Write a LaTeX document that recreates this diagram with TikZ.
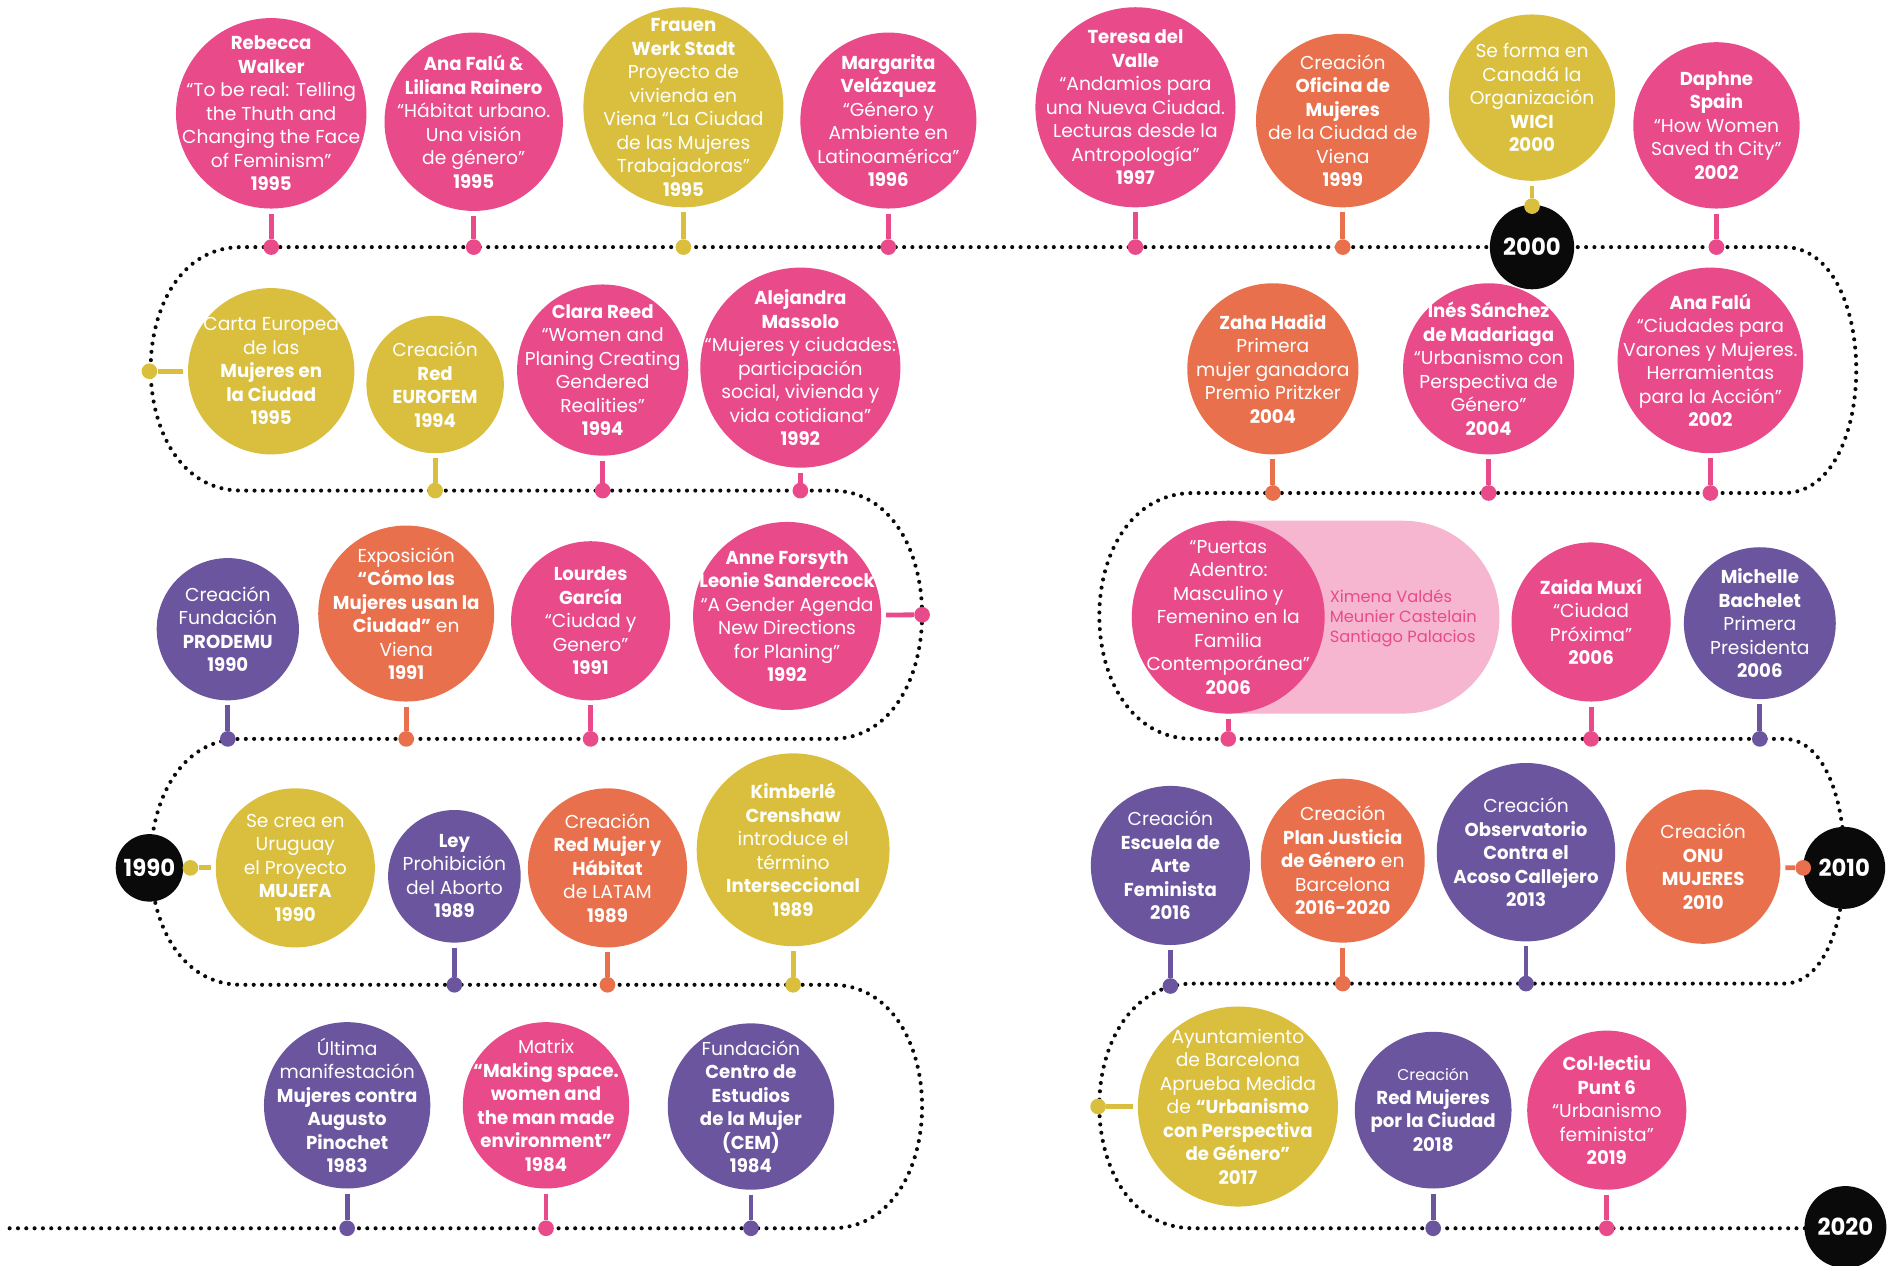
\documentclass[tikz,border=0pt]{standalone}
\usepackage{fontspec}
\setmainfont{Poppins}[BoldFeatures={FakeStretch=0.97}]
\usepackage{tikz}

\definecolor{rosa}{HTML}{E94B8A}
\definecolor{amarillo}{HTML}{D9BF3D}
\definecolor{naranja}{HTML}{E8704C}
\definecolor{morado}{HTML}{6A559E}
\definecolor{rosaclaro}{HTML}{F6B6CF}
\definecolor{negro}{HTML}{0A0A0A}

\tikzset{
  hito/.style={circle, inner sep=0pt, draw=none},
  hitorosa/.style={hito, fill=rosa},
  hitoamarillo/.style={hito, fill=amarillo},
  hitonaranja/.style={hito, fill=naranja},
  hitomorado/.style={hito, fill=morado},
  texto/.style={align=center, inner sep=0pt, text=white, font=\fontsize{15.5}{19.5}\selectfont},
  punto/.style={circle, inner sep=0pt, minimum size=13pt, fill=#1},
  tallo/.style={draw=#1, line width=4pt, shorten <=4pt},
  anio/.style={circle, inner sep=0pt, fill=negro, text=white, font=\bfseries\fontsize{19.5}{20}\selectfont},
  camino/.style={draw=negro, line width=3.4pt, dash pattern=on 0pt off 6.9pt, line cap=round},
}

\begin{document}
\begin{tikzpicture}[x=1pt, y=-1pt]
    \useasboundingbox (0,0) rectangle (1568,1050);

    % linea de tiempo
    \draw[camino] (8,1019) -- (690,1019) .. controls (790,1019) and (790,817) .. (690,817)
        -- (200,817) .. controls (100,817) and (100,613) .. (200,613)
        -- (690,613) .. controls (790,613) and (790,407) .. (690,407)
        -- (200,407) .. controls (100,407) and (100,205) .. (200,205)
        -- (1480,205) .. controls (1560,205) and (1560,409) .. (1480,409)
        -- (990,409) .. controls (886,409) and (886,613) .. (990,613)
        -- (1480,613) .. controls (1547,613) and (1547,816) .. (1480,816)
        -- (990,816) .. controls (886,816) and (886,1019) .. (990,1019)
        -- (1531,1019);

    % fila 1
    \node[hitorosa, minimum size=158] (walker) at (225,94) {};
    \node[texto] (walkert) at (walker) {\textbf{Rebecca}\\\textbf{Walker}\\“To be real: Telling\\the Thuth and\\Changing the Face\\of Feminism”\\\textbf{1995}};
    \node[punto=rosa] (walkerp) at (walker |- 0,205) {};
    \draw[tallo=rosa] (walker) -- (walkerp);

    \node[hitorosa, minimum size=148] (falu) at (393,101) {};
    \node[texto] (falut) at (falu) {\textbf{Ana Falú \&}\\\textbf{Liliana Rainero}\\“Hábitat urbano.\\Una visión\\de género”\\\textbf{1995}};
    \node[punto=rosa] (falup) at (falu |- 0,205) {};
    \draw[tallo=rosa] (falu) -- (falup);

    \node[hitoamarillo, minimum size=166] (frauen) at (567,89) {};
    \node[texto] (frauent) at (frauen) {\textbf{Frauen}\\\textbf{Werk Stadt}\\Proyecto de\\vivienda en\\Viena “La Ciudad\\de las Mujeres\\Trabajadoras”\\\textbf{1995}};
    \node[punto=amarillo] (frauenp) at (frauen |- 0,205) {};
    \draw[tallo=amarillo] (frauen) -- (frauenp);

    \node[hitorosa, minimum size=146] (velazquez) at (737,100) {};
    \node[texto] (velazquezt) at (velazquez) {\textbf{Margarita}\\\textbf{Velázquez}\\“Género y\\Ambiente en\\Latinoamérica”\\\textbf{1996}};
    \node[punto=rosa] (velazquezp) at (velazquez |- 0,205) {};
    \draw[tallo=rosa] (velazquez) -- (velazquezp);

    \node[hitorosa, minimum size=166] (valle) at (942,89) {};
    \node[texto] (vallet) at (valle) {\textbf{Teresa del}\\\textbf{Valle}\\“Andamios para\\una Nueva Ciudad.\\Lecturas desde la\\Antropología”\\\textbf{1997}};
    \node[punto=rosa] (vallep) at (valle |- 0,205) {};
    \draw[tallo=rosa] (valle) -- (vallep);

    \node[hitonaranja, minimum size=144] (oficina) at (1114,100) {};
    \node[texto] (oficinat) at (oficina) {Creación\\\textbf{Oficina de}\\\textbf{Mujeres}\\de la Ciudad de\\Viena\\\textbf{1999}};
    \node[punto=naranja] (oficinap) at (oficina |- 0,205) {};
    \draw[tallo=naranja] (oficina) -- (oficinap);

    \node[anio, minimum size=70] (a2000) at (1271,205) {2000};
    \node[hitoamarillo, minimum size=138] (wici) at (1271,81) {};
    \node[texto] (wicit) at (wici) {Se forma en\\Canadá la\\Organización\\\textbf{WICI}\\\textbf{2000}};
    \node[punto=amarillo] (wicip) at (1271,171) {};
    \draw[tallo=amarillo] (wici) -- (wicip);

    \node[hitorosa, minimum size=138] (spain) at (1424,104) {};
    \node[texto] (spaint) at (spain) {\textbf{Daphne}\\\textbf{Spain}\\“How Women\\Saved th City”\\\textbf{2002}};
    \node[punto=rosa] (spainp) at (spain |- 0,205) {};
    \draw[tallo=rosa] (spain) -- (spainp);

    % fila 2 izquierda
    \node[hitoamarillo, minimum size=138] (carta) at (225,308) {};
    \node[texto] (cartat) at (carta) {Carta Europea\\de las\\\textbf{Mujeres en}\\\textbf{la Ciudad}\\\textbf{1995}};
    \node[punto=amarillo] (cartap) at (124,308) {};
    \draw[tallo=amarillo] (carta) -- (cartap);

    \node[hitoamarillo, minimum size=114] (eurofem) at (361,319) {};
    \node[texto] (eurofemt) at (eurofem) {Creación\\\textbf{Red}\\\textbf{EUROFEM}\\\textbf{1994}};
    \node[punto=amarillo] (eurofemp) at (eurofem |- 0,407) {};
    \draw[tallo=amarillo] (eurofem) -- (eurofemp);

    \node[hitorosa, minimum size=142] (reed) at (500,307) {};
    \node[texto] (reedt) at (reed) {\textbf{Clara Reed}\\“Women and\\Planing Creating\\Gendered\\Realities”\\\textbf{1994}};
    \node[punto=rosa] (reedp) at (reed |- 0,407) {};
    \draw[tallo=rosa] (reed) -- (reedp);

    \node[hitorosa, minimum size=166] (massolo) at (664,305) {};
    \node[texto] (massolot) at (massolo) {\textbf{Alejandra}\\\textbf{Massolo}\\“Mujeres y ciudades:\\participación\\social, vivienda y\\vida cotidiana”\\\textbf{1992}};
    \node[punto=rosa] (massolop) at (massolo |- 0,407) {};
    \draw[tallo=rosa] (massolo) -- (massolop);

    % fila 2 derecha
    \node[hitonaranja, minimum size=142] (hadid) at (1056,306) {};
    \node[texto] (hadidt) at (hadid) {\textbf{Zaha Hadid}\\Primera\\mujer ganadora\\Premio Pritzker\\\textbf{2004}};
    \node[punto=naranja] (hadidp) at (hadid |- 0,409) {};
    \draw[tallo=naranja] (hadid) -- (hadidp);

    \node[hitorosa, minimum size=142] (madariaga) at (1235,306) {};
    \node[texto] (madariagat) at (madariaga) {\textbf{Inés Sánchez}\\\textbf{de Madariaga}\\“Urbanismo con\\Perspectiva de\\Género”\\\textbf{2004}};
    \node[punto=rosa] (madariagap) at (madariaga |- 0,409) {};
    \draw[tallo=rosa] (madariaga) -- (madariagap);

    \node[hitorosa, minimum size=154] (falutwo) at (1419,299) {};
    \node[texto] (falutwot) at (falutwo) {\textbf{Ana Falú}\\“Ciudades para\\Varones y Mujeres.\\Herramientas\\para la Acción”\\\textbf{2002}};
    \node[punto=rosa] (falutwop) at (falutwo |- 0,409) {};
    \draw[tallo=rosa] (falutwo) -- (falutwop);

    % fila 3 izquierda
    \node[hitomorado, minimum size=118] (prodemu) at (189,522) {};
    \node[texto] (prodemut) at (prodemu) {Creación\\Fundación\\\textbf{PRODEMU}\\\textbf{1990}};
    \node[punto=morado] (prodemup) at (prodemu |- 0,613) {};
    \draw[tallo=morado] (prodemu) -- (prodemup);

    \node[hitonaranja, minimum size=146] (expo) at (337,509) {};
    \node[texto] (expot) at (expo) {Exposición\\\textbf{“Cómo las}\\\textbf{Mujeres usan la}\\\textbf{Ciudad”} en\\Viena\\\textbf{1991}};
    \node[punto=naranja] (expop) at (expo |- 0,613) {};
    \draw[tallo=naranja] (expo) -- (expop);

    \node[hitorosa, minimum size=132] (garcia) at (490,515) {};
    \node[texto] (garciat) at (garcia) {\textbf{Lourdes}\\\textbf{García}\\“Ciudad y\\Genero”\\\textbf{1991}};
    \node[punto=rosa] (garciap) at (garcia |- 0,613) {};
    \draw[tallo=rosa] (garcia) -- (garciap);

    \node[hitorosa, minimum size=156] (forsyth) at (653,511) {};
    \node[texto] (forsytht) at (forsyth) {\textbf{Anne Forsyth}\\\textbf{Leonie Sandercock}\\“A Gender Agenda\\New Directions\\for Planing”\\\textbf{1992}};
    \node[punto=rosa] (forsythp) at (765,510) {};
    \draw[tallo=rosa] (forsyth) -- (forsythp);

    % fila 3 derecha
    \fill[rosaclaro, rounded corners=80pt] (939,432) rectangle (1244,592);
    \node[hitorosa, minimum size=160] (puertas) at (1019,512) {};
    \node[texto] (puertast) at (puertas) {“Puertas\\Adentro:\\Masculino y\\Femenino en la\\Familia\\Contemporánea”\\\textbf{2006}};
    \node[texto, text=rosa, align=left, anchor=west, font=\fontsize{13.5}{16.6}\selectfont] (autoras) at (1103,513) {Ximena Valdés\\Meunier Castelain\\Santiago Palacios};
    \node[punto=rosa] (puertasp) at (puertas |- 0,613) {};
    \draw[tallo=rosa] (puertas) -- (puertasp);

    \node[hitorosa, minimum size=132] (muxi) at (1320,516) {};
    \node[texto] (muxit) at (muxi) {\textbf{Zaida Muxí}\\“Ciudad\\Próxima”\\\textbf{2006}};
    \node[punto=rosa] (muxip) at (muxi |- 0,613) {};
    \draw[tallo=rosa] (muxi) -- (muxip);

    \node[hitomorado, minimum size=126] (bachelet) at (1460,517) {};
    \node[texto] (bachelett) at (bachelet) {\textbf{Michelle}\\\textbf{Bachelet}\\Primera\\Presidenta\\\textbf{2006}};
    \node[punto=morado] (bacheletp) at (bachelet |- 0,613) {};
    \draw[tallo=morado] (bachelet) -- (bacheletp);

    % fila 4 izquierda
    \node[anio, minimum size=56] (a1990) at (124,720) {1990};
    \node[hitoamarillo, minimum size=132] (mujefa) at (245,720) {};
    \node[texto] (mujefat) at (mujefa) {Se crea en\\Uruguay\\el Proyecto\\\textbf{MUJEFA}\\\textbf{1990}};
    \node[punto=amarillo] (mujefap) at (158,720) {};
    \draw[tallo=amarillo] (mujefa) -- (mujefap);

    \node[hitomorado, minimum size=110] (ley) at (377,727) {};
    \node[texto] (leyt) at (ley) {\textbf{Ley}\\Prohibición\\del Aborto\\\textbf{1989}};
    \node[punto=morado] (leyp) at (ley |- 0,817) {};
    \draw[tallo=morado] (ley) -- (leyp);

    \node[hitonaranja, minimum size=132] (redmujer) at (504,720) {};
    \node[texto] (redmujert) at (redmujer) {Creación\\\textbf{Red Mujer y}\\\textbf{Hábitat}\\de LATAM\\\textbf{1989}};
    \node[punto=naranja] (redmujerp) at (redmujer |- 0,817) {};
    \draw[tallo=naranja] (redmujer) -- (redmujerp);

    \node[hitoamarillo, minimum size=160] (crenshaw) at (658,705) {};
    \node[texto] (crenshawt) at (crenshaw) {\textbf{Kimberlé}\\\textbf{Crenshaw}\\introduce el\\término\\\textbf{Interseccional}\\\textbf{1989}};
    \node[punto=amarillo] (crenshawp) at (crenshaw |- 0,817) {};
    \draw[tallo=amarillo] (crenshaw) -- (crenshawp);

    % fila 4 derecha
    \node[hitomorado, minimum size=132] (escuela) at (971,718) {};
    \node[texto] (escuelat) at (escuela) {Creación\\\textbf{Escuela de}\\\textbf{Arte}\\\textbf{Feminista}\\\textbf{2016}};
    \node[punto=morado] (escuelap) at (escuela |- 0,818) {};
    \draw[tallo=morado] (escuela) -- (escuelap);

    \node[hitonaranja, minimum size=136] (justicia) at (1114,714) {};
    \node[texto] (justiciat) at (justicia) {Creación\\\textbf{Plan Justicia}\\\textbf{de Género} en\\Barcelona\\\textbf{2016-2020}};
    \node[punto=naranja] (justiciap) at (justicia |- 0,816) {};
    \draw[tallo=naranja] (justicia) -- (justiciap);

    \node[hitomorado, minimum size=148] (observatorio) at (1266,707) {};
    \node[texto] (observatoriot) at (observatorio) {Creación\\\textbf{Observatorio}\\\textbf{Contra el}\\\textbf{Acoso Callejero}\\\textbf{2013}};
    \node[punto=morado] (observatoriop) at (observatorio |- 0,816) {};
    \draw[tallo=morado] (observatorio) -- (observatoriop);

    \node[anio, minimum size=68] (a2010) at (1530,720) {2010};
    \node[hitonaranja, minimum size=128] (onu) at (1413,719) {};
    \node[texto] (onut) at (onu) {Creación\\\textbf{ONU}\\\textbf{MUJERES}\\\textbf{2010}};
    \node[punto=naranja] (onup) at (1496,720) {};
    \draw[tallo=naranja] (onu) -- (onup);

    % fila 5 izquierda
    \node[hitomorado, minimum size=138] (pinochet) at (288,917) {};
    \node[texto] (pinochett) at (pinochet) {Última\\manifestación\\\textbf{Mujeres contra}\\\textbf{Augusto}\\\textbf{Pinochet}\\\textbf{1983}};
    \node[punto=morado] (pinochetp) at (pinochet |- 0,1019) {};
    \draw[tallo=morado] (pinochet) -- (pinochetp);

    \node[hitorosa, minimum size=138] (matrix) at (453,917) {};
    \node[texto] (matrixt) at (matrix) {Matrix\\\textbf{“Making space.}\\\textbf{women and}\\\textbf{the man made}\\\textbf{environment”}\\\textbf{1984}};
    \node[punto=rosa] (matrixp) at (matrix |- 0,1019) {};
    \draw[tallo=rosa] (matrix) -- (matrixp);

    \node[hitomorado, minimum size=138] (cem) at (623,918) {};
    \node[texto] (cemt) at (cem) {Fundación\\\textbf{Centro de}\\\textbf{Estudios}\\\textbf{de la Mujer}\\\textbf{(CEM)}\\\textbf{1984}};
    \node[punto=morado] (cemp) at (cem |- 0,1019) {};
    \draw[tallo=morado] (cem) -- (cemp);

    % fila 5 derecha
    \node[hitoamarillo, minimum size=166] (ayto) at (1027,918) {};
    \node[texto] (aytot) at (ayto) {Ayuntamiento\\de Barcelona\\Aprueba Medida\\de \textbf{“Urbanismo}\\\textbf{con Perspectiva}\\\textbf{de Género”}\\\textbf{2017}};
    \node[punto=amarillo] (aytop) at (911,918) {};
    \draw[tallo=amarillo] (ayto) -- (aytop);

    \node[hitomorado, minimum size=130] (redciudad) at (1189,921) {};
    \node[texto] (redciudadt) at (redciudad) {{\fontsize{13}{16}\selectfont Creación}\\\textbf{Red Mujeres}\\\textbf{por la Ciudad}\\\textbf{2018}};
    \node[punto=morado] (redciudadp) at (redciudad |- 0,1019) {};
    \draw[tallo=morado] (redciudad) -- (redciudadp);

    \node[hitorosa, minimum size=132] (punt) at (1333,921) {};
    \node[texto] (puntt) at (punt) {\textbf{Col·lectiu}\\\textbf{Punt 6}\\“Urbanismo\\feminista”\\\textbf{2019}};
    \node[punto=rosa] (puntp) at (punt |- 0,1019) {};
    \draw[tallo=rosa] (punt) -- (puntp);

    \node[anio, minimum size=68] (a2020) at (1531,1018) {2020};
\end{tikzpicture}
\end{document}
